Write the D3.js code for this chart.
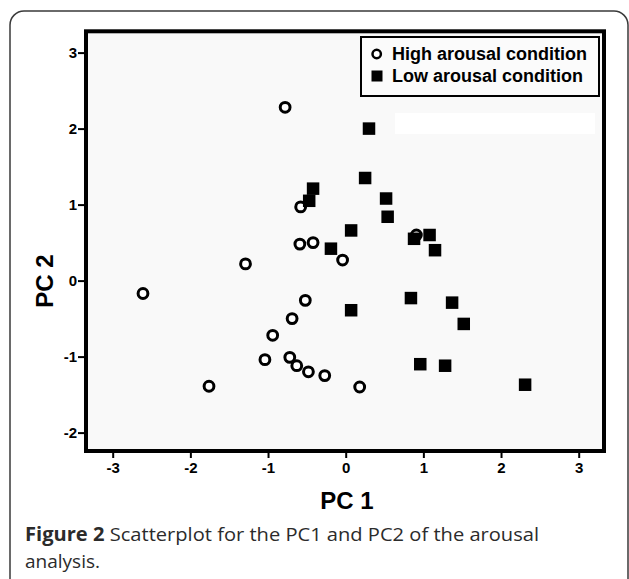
<!DOCTYPE html>
<html><head><meta charset="utf-8">
<script src="https://cdn.jsdelivr.net/npm/d3@7/dist/d3.min.js"></script>
<style>body{margin:0;background:#fff} svg{display:block}</style>
</head><body>
<script>
// ---- data ----
const highPC1 = [-0.78,-0.58,-0.59,-0.42,-1.29,-2.61,-0.04,0.91,-0.52,-0.69,-0.94,-1.04,-0.72,-0.63,-0.48,-0.27,-1.76,0.18];
const highPC2 = [2.28,0.97,0.48,0.50,0.22,-0.17,0.27,0.60,-0.26,-0.50,-0.72,-1.04,-1.01,-1.12,-1.20,-1.25,-1.39,-1.40];
const lowPC1 = [0.30,0.25,-0.42,-0.47,0.52,0.54,0.07,-0.19,0.88,1.08,1.15,0.07,0.84,1.37,1.52,0.96,1.28,2.31];
const lowPC2 = [2.00,1.35,1.21,1.05,1.08,0.84,0.66,0.42,0.55,0.60,0.40,-0.39,-0.23,-0.29,-0.57,-1.10,-1.12,-1.37];
const xTicks = [-3,-2,-1,0,1,2,3];
const yTicks = [-2,-1,0,1,2,3];
const seriesNames = ["High arousal condition","Low arousal condition"];
const xTitle = "PC 1";
const yTitle = "PC 2";
const captionBold = "Figure 2";
const captionRest = " Scatterplot for the PC1 and PC2 of the arousal";
const captionLine2 = "analysis.";

// ---- drawing ----
const W = 629, H = 579;
const svg = d3.select("body").append("svg").attr("width", W).attr("height", H);

// outer rounded panel
svg.append("rect").attr("x", 10).attr("y", 11).attr("width", 618).attr("height", 620)
  .attr("rx", 14).attr("fill", "#fff").attr("stroke", "#3a3a3a").attr("stroke-width", 1.5);

const L = 86, R = 604, T = 31.3, B = 451;
const x = d3.scaleLinear().domain([-3, 3]).range([112.7, 578.7]);
const y = d3.scaleLinear().domain([-2, 3]).range([432.6, 52.6]);

// plot frame
svg.append("rect").attr("x", L).attr("y", T).attr("width", R - L).attr("height", B - T)
  .attr("fill", "#f9f9f9").attr("stroke", "#000").attr("stroke-width", 4);

// white artifact strip
svg.append("rect").attr("x", 395).attr("y", 113).attr("width", 200).attr("height", 21).attr("fill", "#fff");

const tickFont = "'Liberation Sans', Arial, sans-serif";
const fmt = d => String(d);

const gx = svg.append("g").attr("transform", `translate(0,${B + 2})`)
  .call(d3.axisBottom(x).tickValues(xTicks).tickFormat(fmt).tickSize(5).tickPadding(4));
const gy = svg.append("g").attr("transform", `translate(${L - 2},0)`)
  .call(d3.axisLeft(y).tickValues(yTicks).tickFormat(fmt).tickSize(6).tickPadding(1));
[gx, gy].forEach(g => {
  g.select(".domain").remove();
  g.selectAll(".tick line").attr("stroke", "#000").attr("stroke-width", 2);
  g.selectAll(".tick text").attr("fill", "#000").style("font-family", tickFont)
    .style("font-weight", "bold").style("font-size", "15px");
});

// axis titles
svg.append("text").attr("x", 347).attr("y", 509).attr("text-anchor", "middle")
  .style("font-family", tickFont).style("font-weight", "bold").style("font-size", "24px").text(xTitle);
svg.append("text").attr("transform", "translate(53,281) rotate(-90)").attr("text-anchor", "middle")
  .style("font-family", tickFont).style("font-weight", "bold").style("font-size", "24px").text(yTitle);

// points
const high = highPC1.map((v, i) => ({x: v, y: highPC2[i]}));
const low = lowPC1.map((v, i) => ({x: v, y: lowPC2[i]}));
svg.append("g").selectAll("circle").data(high).join("circle")
  .attr("cx", d => x(d.x)).attr("cy", d => y(d.y)).attr("r", 4.9)
  .attr("fill", "#fff").attr("stroke", "#000").attr("stroke-width", 3);
const S = 12.5;
svg.append("g").selectAll("rect").data(low).join("rect")
  .attr("x", d => x(d.x) - S / 2).attr("y", d => y(d.y) - S / 2)
  .attr("width", S).attr("height", S).attr("fill", "#000");

// legend
const lg = svg.append("g");
lg.append("rect").attr("x", 361).attr("y", 37).attr("width", 238).attr("height", 59)
  .attr("fill", "#fbfbfb").attr("stroke", "#000").attr("stroke-width", 2);
lg.append("circle").attr("cx", 376.7).attr("cy", 54).attr("r", 4.2)
  .attr("fill", "#fff").attr("stroke", "#000").attr("stroke-width", 2.5);
lg.append("rect").attr("x", 371.5).attr("y", 70.5).attr("width", 11).attr("height", 11).attr("fill", "#000");
seriesNames.forEach((n, i) => {
  lg.append("text").attr("x", 392).attr("y", 60 + i * 22)
    .style("font-family", tickFont).style("font-weight", "bold").style("font-size", "18px")
    .attr("fill", "#000").text(n);
});

// caption
const capFont = "'Open Sans', 'Noto Sans', sans-serif";
const cap = svg.append("text").attr("x", 25).attr("y", 541)
  .style("font-family", capFont).style("font-size", "19px").attr("fill", "#2b2b2b");
cap.append("tspan").style("font-weight", "bold").text(captionBold);
cap.append("tspan").text(captionRest);
const w = cap.node().getComputedTextLength();
if (Math.abs(w - 514) > 2) cap.attr("textLength", 514).attr("lengthAdjust", "spacingAndGlyphs");
svg.append("text").attr("x", 25).attr("y", 568)
  .style("font-family", capFont).style("font-size", "19px").attr("fill", "#2b2b2b")
  .attr("textLength", captionLine2.length ? null : null).text(captionLine2);
</script>
</body></html>
